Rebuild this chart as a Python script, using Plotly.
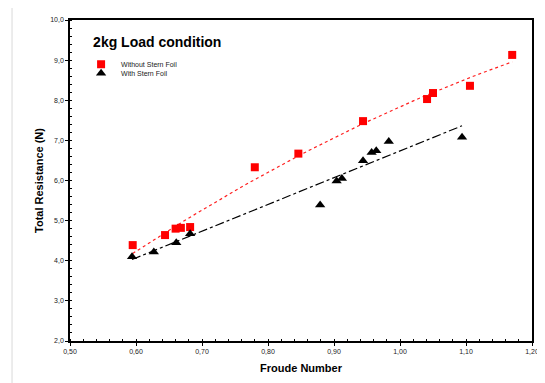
import numpy as np
import plotly.graph_objects as go

# Data
froude_without = [0.595, 0.644, 0.660, 0.668, 0.682, 0.780, 0.846, 0.944, 1.041, 1.050, 1.106, 1.170]
resist_without = [4.39, 4.64, 4.80, 4.82, 4.84, 6.33, 6.67, 7.48, 8.03, 8.18, 8.36, 9.13]

froude_with = [0.594, 0.627, 0.661, 0.682, 0.879, 0.904, 0.912, 0.944, 0.957, 0.964, 0.983, 1.094]
resist_with = [4.10, 4.22, 4.45, 4.67, 5.39, 5.99, 6.05, 6.49, 6.70, 6.74, 6.97, 7.08]

x_ticks = [0.5, 0.6, 0.7, 0.8, 0.9, 1.0, 1.1, 1.2]
y_ticks = [2, 3, 4, 5, 6, 7, 8, 9, 10]

FONT = "Liberation Sans, Arial, sans-serif"


def trend(xs, ys, order):
    c = np.polyfit(xs, ys, order)
    xx = np.linspace(min(xs), max(xs), 40)
    return xx, np.polyval(c, xx)


tx1, ty1 = trend(froude_without, resist_without, 2)
tx2, ty2 = trend(froude_with, resist_with, 1)

fig = go.Figure()
fig.add_trace(go.Scatter(x=tx1, y=ty1, mode="lines", showlegend=False, hoverinfo="skip",
                         line=dict(color="#ff2020", width=1.2, dash="dot")))
fig.add_trace(go.Scatter(x=tx2, y=ty2, mode="lines", showlegend=False, hoverinfo="skip",
                         line=dict(color="#000000", width=1.2, dash="dashdot")))
fig.add_trace(go.Scatter(x=froude_without, y=resist_without, mode="markers",
                         name="Without Stern Foil", legend="legend",
                         marker=dict(symbol="square", size=8, color="#ff0000")))
fig.add_trace(go.Scatter(x=froude_with, y=resist_with, mode="markers",
                         name="With Stern Foil", legend="legend2",
                         marker=dict(symbol="triangle-up", size=9, color="#000000")))

axis_common = dict(
    showline=True, linecolor="black", linewidth=1.5, mirror=True,
    showgrid=False, zeroline=False, automargin=False,
    ticks="outside", ticklen=3, tickcolor="black", tickwidth=1,
    tickfont=dict(family=FONT, size=7, color="#222222"),
)

fig.update_xaxes(
    range=[0.5, 1.2], tickvals=x_ticks, tickformat=".2f",
    title=dict(text="<b>Froude Number</b>", font=dict(family=FONT, size=11, color="black"), standoff=10),
    minor=dict(dtick=0.02, ticks="inside", ticklen=2, tickcolor="black"),
    **axis_common,
)
fig.update_yaxes(
    range=[2, 10], tickvals=y_ticks, tickformat=".1f",
    title=dict(text="<b>Total Resistance (N)</b>", font=dict(family=FONT, size=11, color="black"), standoff=4),
    minor=dict(dtick=0.2, ticks="inside", ticklen=2, tickcolor="black"),
    **axis_common,
)

legend_common = dict(
    bgcolor="rgba(0,0,0,0)", borderwidth=0,
    font=dict(family=FONT, size=7, color="#222222"),
    xanchor="left", yanchor="middle", itemsizing="trace",
    tracegroupgap=0,
)

# The page body adds an 8px margin, so the figure is sized 8px smaller.
fig.update_layout(
    width=537, height=375,
    margin=dict(l=62, r=13, t=12, b=42),
    paper_bgcolor="white", plot_bgcolor="white",
    separators=",.",
    title=dict(text="<b>2kg Load condition</b>", font=dict(family=FONT, size=14, color="black"),
               xref="paper", yref="paper", x=0.05, y=0.931, xanchor="left", yanchor="middle"),
    legend=dict(x=0.024, y=0.862, **legend_common),
    legend2=dict(x=0.024, y=0.834, **legend_common),
    shapes=[
        dict(type="line", xref="paper", yref="paper", x0=-0.1255, x1=1.2, y0=1.0405, y1=1.0405,
             line=dict(color="#d9d9d9", width=1)),
        dict(type="line", xref="paper", yref="paper", x0=-0.1255, x1=-0.1255, y0=1.0405, y1=-0.2,
             line=dict(color="#d9d9d9", width=1)),
    ],
)

fig.write_html("out.html")
